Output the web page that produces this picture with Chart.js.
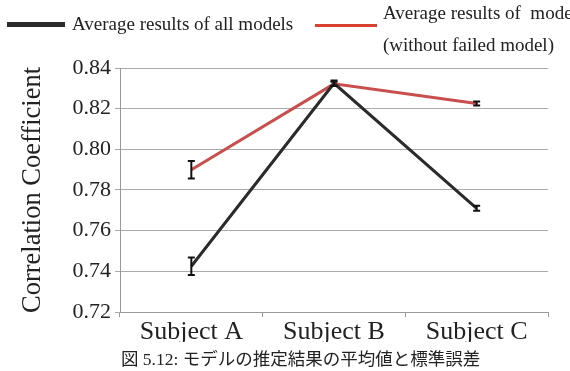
<!DOCTYPE html>
<html>
<head>
<meta charset="utf-8">
<script src="https://cdn.jsdelivr.net/npm/chart.js@4"></script>
<style>
  html, body { margin: 0; padding: 0; background: #fff; overflow: hidden; }
  #wrap { position: relative; width: 570px; height: 371px; overflow: hidden; }
  #c { position: absolute; left: 0; top: 0; }
  .lg { position: absolute; font-family: "Liberation Serif", serif; font-size: 19px; color: #222; white-space: pre; }
  .sw { position: absolute; }
  #caption { position: absolute; left: 121px; top: 345px; font-family: "Liberation Serif", "Noto Sans CJK JP", serif; font-size: 17.5px; color: #222; white-space: nowrap; }
</style>
</head>
<body>
<div id="wrap">
  <canvas id="c" width="570" height="371"></canvas>
  <div class="sw" style="left:7px;top:22px;width:58px;height:5px;background:#2b2b2b"></div>
  <div class="lg" id="lg1" style="left:72px;top:13px"></div>
  <div class="sw" style="left:315px;top:24px;width:62px;height:3px;background:#d8412f"></div>
  <div class="lg" id="lg2" style="left:383px;top:-3px;line-height:32px"></div>
  <div id="caption">図 5.12: モデルの推定結果の平均値と標準誤差</div>
</div>
<script>
// Correlation coefficient per subject
const subjects = ['Subject A', 'Subject B', 'Subject C'];
const allModels = [0.7425, 0.8325, 0.7710];
const allModelsErr = [0.0043, 0.0013, 0.0012];
const withoutFailed = [0.7900, 0.8322, 0.8225];
const withoutFailedErr = [0.0043, 0.0010, 0.0010];
const seriesNames = ['Average results of all models', 'Average results of  models\n(without failed model)'];
const yTicks = [0.72, 0.74, 0.76, 0.78, 0.80, 0.82, 0.84];

document.getElementById('lg1').textContent = seriesNames[0];
document.getElementById('lg2').textContent = seriesNames[1];

// error bars drawn through the scales
const errorBars = {
  id: 'errorBars',
  afterDatasetsDraw(chart) {
    const ctx = chart.ctx;
    const x = chart.scales.x, y = chart.scales.y;
    ctx.save();
    ctx.strokeStyle = '#111';
    ctx.lineWidth = 2;
    chart.data.datasets.forEach(ds => {
      ds.data.forEach((v, i) => {
        const px = x.getPixelForValue(i);
        const top = y.getPixelForValue(v + ds.err[i]);
        const bot = y.getPixelForValue(v - ds.err[i]);
        ctx.beginPath();
        ctx.moveTo(px, top); ctx.lineTo(px, bot);
        ctx.moveTo(px - 3.5, top); ctx.lineTo(px + 3.5, top);
        ctx.moveTo(px - 3.5, bot); ctx.lineTo(px + 3.5, bot);
        ctx.stroke();
      });
    });
    ctx.restore();
  }
};

const data = {
  labels: subjects,
  datasets: [{
    label: seriesNames[0],
    data: allModels,
    err: allModelsErr,
    borderColor: '#2b2b2b',
    borderWidth: 3,
    pointRadius: 0,
    tension: 0
  }, {
    label: seriesNames[1],
    data: withoutFailed,
    err: withoutFailedErr,
    borderColor: '#c94f4f',
    borderWidth: 3,
    pointRadius: 0,
    tension: 0
  }]
};

const config = {
  type: 'line',
  data: data,
  plugins: [errorBars],
  options: {
    responsive: false,
    animation: false,
    layout: { padding: { top: 68, right: 22, bottom: 29, left: 0 } },
    plugins: {
      legend: { display: false },
      tooltip: { enabled: false }
    },
    scales: {
      x: {
        offset: true,
        grid: { offset: true, drawOnChartArea: false, tickLength: 5, color: '#999' },
        border: { color: '#999' },
        ticks: { color: '#222', padding: 0, font: { family: 'Liberation Serif', size: 26 } },
        afterFit(scale) { scale.height = 30; }
      },
      y: {
        min: 0.72,
        max: 0.84,
        afterBuildTicks(scale) { scale.ticks = yTicks.map(v => ({ value: v })); },
        grid: { color: '#aaa', tickLength: 5 },
        border: { color: '#999' },
        ticks: {
          color: '#222',
          padding: 4,
          font: { family: 'Liberation Serif', size: 22 },
          callback: v => v.toFixed(2)
        },
        title: {
          display: true,
          text: 'Correlation Coefficient',
          color: '#222',
          padding: { top: 17, bottom: 0 },
          font: { family: 'Liberation Serif', size: 26.5 }
        },
        afterFit(scale) { scale.width = 120; }
      }
    }
  }
};

var chartEl = document.getElementById('c');
let chart1 = new Chart(chartEl, config);
</script>
</body>
</html>
